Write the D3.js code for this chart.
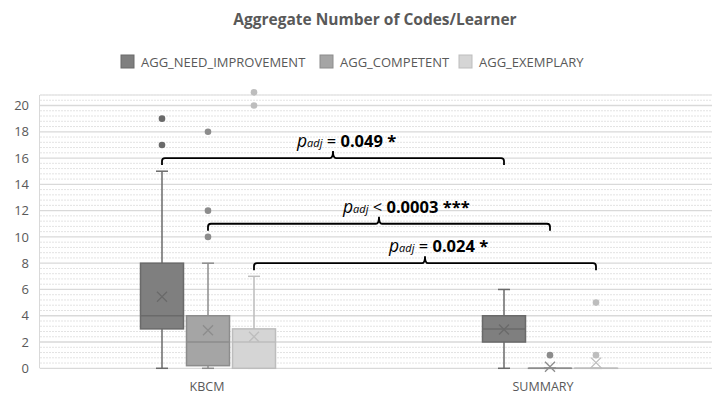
<!DOCTYPE html>
<html><head><meta charset="utf-8">
<script src="https://cdn.jsdelivr.net/npm/d3@7"></script>
<style>body{margin:0;background:#fff;} svg{display:block;font-family:"Open Sans",sans-serif;}</style>
</head><body>
<svg id="c" width="715" height="396"></svg>
<script>
const categories = ["KBCM", "SUMMARY"];
const seriesNames = ["AGG_NEED_IMPROVEMENT", "AGG_COMPETENT", "AGG_EXEMPLARY"];
// [min whisker, Q1, median, Q3, max whisker, mean] per category
const needImprovement = [[0, 3, 4, 8, 15, 5.45], [0, 2, 3, 4, 6, 2.95]];
const competent       = [[0, 0.2, 2, 4, 8, 2.9], [0, 0, 0, 0, 0, 0.12]];
const exemplary       = [[0, 0, 2, 3, 7, 2.4], [0, 0, 0, 0, 0, 0.43]];
const needOutliers = [[17, 19], []];
const compOutliers = [[10, 12, 18], [1]];
const exemOutliers = [[20, 21], [1, 5]];
const yTicks = [0, 2, 4, 6, 8, 10, 12, 14, 16, 18, 20];
// brackets: series index, level (value)
const bracketSeries = [0, 1, 2];
const bracketLevels = [16, 11, 8];
const bracketOps = ["=", "<", "="];
const bracketValues = ["0.049 *", "0.0003 ***", "0.024 *"];

const fills = ["#7f7f7f", "#a5a5a5", "#d5d5d5"];
const strokes = ["#6a6a6a", "#8c8c8c", "#bdbdbd"];
const stats = [needImprovement, competent, exemplary];
const outl = [needOutliers, compOutliers, exemOutliers];

const svg = d3.select("#c");
const plotL = 40, plotR = 712, plotT = 95;
const y = d3.scaleLinear().domain([0, 20.8]).range([368.3, 95]);
const xBand = d3.scaleBand().domain(categories).range([37, 721]);
const xLab = d3.scaleBand().domain(categories).range([39, 711]);
const offs = d3.scalePoint().domain([0,1,2]).range([-46, 46]);
const bw = 43;
const cx = (ci, si) => xBand(categories[ci]) + xBand.bandwidth()/2 + offs(si);

// minor grid
const minor = d3.range(0, 20.81, 0.4).filter(v => Math.abs(v/2 - Math.round(v/2)) > 0.01);
svg.append("g").selectAll("line").data(minor).join("line")
  .attr("x1", plotL).attr("x2", plotR).attr("y1", d => y(d)).attr("y2", d => y(d))
  .attr("stroke", "#e3e3e3").attr("stroke-width", 1).attr("stroke-dasharray", "2,1");
svg.append("g").selectAll("line").data(yTicks.concat([20.8])).join("line")
  .attr("x1", plotL).attr("x2", plotR).attr("y1", d => y(d)).attr("y2", d => y(d))
  .attr("stroke", d => d === 20.8 ? "#e6e6e6" : "#d9d9d9").attr("stroke-width", 1.3);
svg.append("line").attr("x1", 39.5).attr("x2", 39.5).attr("y1", y(20.8)).attr("y2", y(0))
  .attr("stroke", "#d9d9d9");

// y axis
const yAxis = d3.axisLeft(y).tickValues(yTicks).tickSize(0).tickPadding(0);
const ga = svg.append("g").attr("transform", "translate(29,0)").call(yAxis);
ga.select(".domain").remove();
ga.selectAll("text").attr("fill", "#595959").style("font-size", "13px").style("font-family", "Open Sans");

// x axis labels
const xAxis = d3.axisBottom(xLab).tickSize(0).tickPadding(0);
const gx = svg.append("g").attr("transform", "translate(0,382)").call(xAxis);
gx.select(".domain").remove();
gx.selectAll("text").attr("fill", "#595959").style("font-size", "12.5px").style("font-family", "Open Sans");

// boxes
stats.forEach((ser, si) => {
  ser.forEach((s, ci) => {
    const g = svg.append("g");
    const x0 = cx(ci, si);
    const [mn, q1, md, q3, mx, mean] = s;
    g.append("line").attr("x1", x0).attr("x2", x0).attr("y1", y(mn)).attr("y2", y(q1)).attr("stroke", strokes[si]).attr("stroke-width", 1.5);
    g.append("line").attr("x1", x0).attr("x2", x0).attr("y1", y(q3)).attr("y2", y(mx)).attr("stroke", strokes[si]).attr("stroke-width", 1.5);
    g.append("line").attr("x1", x0-6).attr("x2", x0+6).attr("y1", y(mx)).attr("y2", y(mx)).attr("stroke", strokes[si]).attr("stroke-width", 1.5);
    g.append("line").attr("x1", x0-6).attr("x2", x0+6).attr("y1", y(mn)).attr("y2", y(mn)).attr("stroke", strokes[si]).attr("stroke-width", 1.5);
    g.append("rect").attr("x", x0-bw/2).attr("y", y(q3)).attr("width", bw).attr("height", Math.max(0.01, y(q1)-y(q3)))
      .attr("fill", fills[si]).attr("stroke", strokes[si]).attr("stroke-width", 1.5);
    g.append("line").attr("x1", x0-bw/2).attr("x2", x0+bw/2).attr("y1", y(md)).attr("y2", y(md)).attr("stroke", strokes[si]).attr("stroke-width", 1.5);
    const m = 5;
    g.append("path").attr("d", `M${x0-m},${y(mean)-m}L${x0+m},${y(mean)+m}M${x0-m},${y(mean)+m}L${x0+m},${y(mean)-m}`)
      .attr("stroke", strokes[si]).attr("stroke-width", 1.3).attr("fill", "none");
    g.selectAll("circle").data(outl[si][ci]).join("circle")
      .attr("cx", x0).attr("cy", d => y(d)).attr("r", 3.3).attr("fill", strokes[si]);
  });
});

// brackets
bracketSeries.forEach((si, i) => {
  const xa = cx(0, si), xb = cx(1, si), yl = y(bracketLevels[i]);
  const mid = (xa + xb) / 2, r = 3, drop = 7;
  const d = `M${xa},${yl+drop}V${yl+r}Q${xa},${yl} ${xa+r},${yl}H${mid-r}Q${mid},${yl} ${mid},${yl-7}Q${mid},${yl} ${mid+r},${yl}H${xb-r}Q${xb},${yl} ${xb},${yl+r}V${yl+drop}`;
  svg.append("path").attr("d", d).attr("fill", "none").attr("stroke", "#000").attr("stroke-width", 1.8);
  const t = svg.append("text").attr("x", mid - 36).attr("y", yl - 11).attr("fill", "#000");
  t.append("tspan").text("p").style("font-style", "italic").style("font-size", "17.5px");
  t.append("tspan").text("adj").style("font-style", "italic").style("font-size", "11px");
  t.append("tspan").text(" " + bracketOps[i] + " ").style("font-size", "16.5px");
  t.append("tspan").text(bracketValues[i]).style("font-weight", "bold").style("font-size", "16.5px");
});

// title
svg.append("text").attr("x", 375).attr("y", 25).attr("text-anchor", "middle")
  .attr("fill", "#595959").style("font-weight", "bold").style("font-size", "15.5px").text("Aggregate Number of Codes/Learner");

// legend
const legX = [121, 320, 459];
seriesNames.forEach((n, i) => {
  svg.append("rect").attr("x", legX[i]).attr("y", 55).attr("width", 13).attr("height", 13)
    .attr("fill", fills[i]).attr("stroke", strokes[i]);
  svg.append("text").attr("x", legX[i] + 20).attr("y", 67).attr("fill", "#595959")
    .style("font-size", "13px").text(n);
});
</script>
</body></html>
